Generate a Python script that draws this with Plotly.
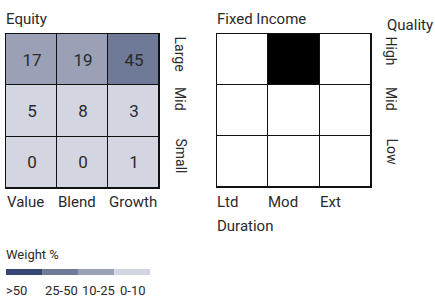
import plotly.graph_objects as go

W, H = 435, 299
FONT = "Roboto, sans-serif"
TXT = "#2a2a2a"

# ---- data ----
eq_cols = ["Value", "Blend", "Growth"]
eq_rows = ["Large", "Mid", "Small"]
eq_weights = [[17, 19, 45],
              [5, 8, 3],
              [0, 0, 1]]
fi_cols = ["Ltd", "Mod", "Ext"]
fi_rows = ["High", "Mid", "Low"]
fi_weights = [[0, 100, 0],
              [0, 0, 0],
              [0, 0, 0]]
legend_labels = [">50", "25-50", "10-25", "0-10"]
legend_colors = ["#344872", "#6f7a98", "#9aa0b5", "#d3d6e0"]


def bin_index(v):
    # 0 -> 0-10, 1 -> 10-25, 2 -> 25-50, 3 -> >50
    if v > 50:
        return 3
    if v > 25:
        return 2
    if v > 10:
        return 1
    return 0


def px_x(a, b):
    return [a / W, b / W]


def px_y(top, bottom):
    return [1 - bottom / H, 1 - top / H]


col_by_bin = list(reversed(legend_colors))  # index 0 = 0-10
cs = []
for i, c in enumerate(col_by_bin):
    cs.append([i / 4, c])
    cs.append([(i + 1) / 4, c])

eq_z = [[bin_index(v) for v in row] for row in eq_weights]

fig = go.Figure()

fig.add_trace(go.Heatmap(
    z=eq_z, x=[0, 1, 2], y=[0, 1, 2], text=[[str(v) for v in r] for r in eq_weights],
    texttemplate="%{text}", textfont=dict(family=FONT, size=17, color=TXT),
    colorscale=cs, zmin=-0.5, zmax=3.5, showscale=False, xgap=1, ygap=1,
    hoverinfo="skip", xaxis="x", yaxis="y"))

fig.add_trace(go.Heatmap(
    z=fi_weights, x=[0, 1, 2], y=[0, 1, 2],
    colorscale=[[0, "white"], [0.5, "white"], [0.5, "black"], [1, "black"]],
    zmin=0, zmax=100, showscale=False, xgap=1, ygap=1,
    hoverinfo="skip", xaxis="x2", yaxis="y2"))

fig.add_trace(go.Heatmap(
    z=[[3 - i for i in range(len(legend_labels))]], x=list(range(len(legend_labels))), y=[0],
    colorscale=cs, zmin=-0.5, zmax=3.5, showscale=False,
    hoverinfo="skip", xaxis="x3", yaxis="y3"))

ax_common = dict(showgrid=False, zeroline=False, showticklabels=False, ticks="",
                 fixedrange=True)
grid_ax = dict(ax_common, range=[-0.5, 2.5], showline=True, mirror=True,
               linecolor="#111111", linewidth=1)

fig.update_layout(
    width=W, height=H, margin=dict(l=0, r=0, t=0, b=0),
    paper_bgcolor="white", plot_bgcolor="#111111",
    showlegend=False,
    font=dict(family=FONT, size=15, color=TXT),
    xaxis=dict(grid_ax, domain=px_x(6, 159)),
    yaxis=dict(grid_ax, domain=px_y(34, 188), range=[2.5, -0.5]),
    xaxis2=dict(grid_ax, domain=px_x(217, 371), anchor="y2"),
    yaxis2=dict(grid_ax, domain=px_y(34, 187), anchor="x2", range=[2.5, -0.5]),
    xaxis3=dict(ax_common, domain=px_x(6, 150), range=[-0.5, 3.5], anchor="y3"),
    yaxis3=dict(ax_common, domain=px_y(269, 275), range=[-0.5, 0.5], anchor="x3"),
)

ann = []


def add_text(text, x, y, xanchor="left", yanchor="middle", size=15, angle=0):
    ann.append(dict(text=text, x=x / W, y=1 - y / H, xref="paper", yref="paper",
                    xanchor=xanchor, yanchor=yanchor, showarrow=False,
                    textangle=angle, font=dict(family=FONT, size=size, color=TXT)))


add_text("Equity", 4, 19)
add_text("Fixed Income", 215, 19)
add_text("Quality", 385, 25)
add_text("Duration", 215, 226)

eq_left = [5, 56, 107]
row_tops = [34, 85, 136]
for c, x in zip(eq_cols, eq_left):
    add_text(c, x, 202)
for r, y in zip(eq_rows, row_tops):
    add_text(r, 180, y, xanchor="center", yanchor="top", angle=90, size=14)

fi_left = [215, 266, 318]
for c, x in zip(fi_cols, fi_left):
    add_text(c, x, 202)
for r, y in zip(fi_rows, row_tops):
    add_text(r, 391, y, xanchor="center", yanchor="top", angle=90, size=14)

add_text("Weight %", 4, 254, size=13)
leg_x = [4, 43, 80, 118]
for lab, x in zip(legend_labels, leg_x):
    add_text(lab, x, 290, size=13)

fig.update_layout(annotations=ann)
fig.write_html("out.html", config={"displayModeBar": False, "staticPlot": True},
               post_script="document.body.style.margin='0';document.body.style.padding='0';")
